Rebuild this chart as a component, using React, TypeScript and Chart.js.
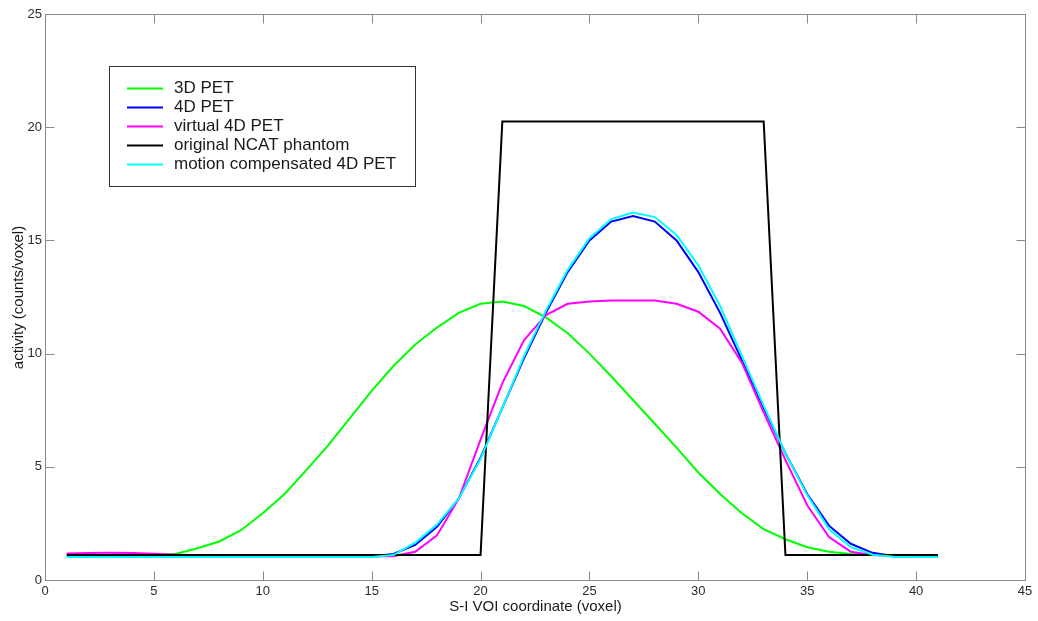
import { useEffect, useRef } from "react";
import { Chart, registerables } from "chart.js";

Chart.register(...registerables);

const voxels = [1,2,3,4,5,6,7,8,9,10,11,12,13,14,15,16,17,18,19,20,21,22,23,24,25,26,27,28,29,30,31,32,33,34,35,36,37,38,39,40,41];

const pet3d = [1.1,1.1,1.1,1.1,1.1,1.15,1.4,1.7,2.2,2.95,3.8,4.85,5.95,7.15,8.35,9.45,10.4,11.15,11.8,12.2,12.3,12.1,11.6,10.9,10.0,9.0,7.95,6.9,5.85,4.75,3.8,2.95,2.25,1.8,1.45,1.25,1.15,1.1,1.1,1.1,1.1];

const pet4d = [1.05,1.05,1.05,1.05,1.05,1.05,1.05,1.05,1.05,1.05,1.05,1.05,1.05,1.05,1.05,1.15,1.55,2.35,3.6,5.4,7.6,9.8,11.8,13.6,15.0,15.83,16.08,15.83,15.0,13.6,11.8,9.7,7.6,5.6,3.8,2.4,1.6,1.2,1.05,1.05,1.05];

const virtual4d = [1.17,1.19,1.2,1.19,1.16,1.12,1.08,1.05,1.05,1.05,1.05,1.05,1.05,1.05,1.05,1.05,1.25,1.97,3.6,6.2,8.7,10.6,11.7,12.2,12.3,12.35,12.35,12.35,12.2,11.85,11.1,9.6,7.4,5.3,3.3,1.9,1.25,1.1,1.05,1.05,1.05];

const phantom = [1.1,1.1,1.1,1.1,1.1,1.1,1.1,1.1,1.1,1.1,1.1,1.1,1.1,1.1,1.1,1.1,1.1,1.1,1.1,1.1,20.25,20.25,20.25,20.25,20.25,20.25,20.25,20.25,20.25,20.25,20.25,20.25,20.25,1.1,1.1,1.1,1.1,1.1,1.1,1.1,1.1];

const motionComp = [1.02,1.02,1.02,1.02,1.02,1.02,1.02,1.02,1.02,1.02,1.02,1.02,1.02,1.02,1.02,1.1,1.65,2.45,3.6,5.35,7.6,9.9,11.9,13.7,15.1,15.94,16.23,16.03,15.24,13.9,12.1,9.9,7.7,5.6,3.75,2.25,1.45,1.12,1.03,1.02,1.02];

const seriesLabels = ["3D PET", "4D PET", "virtual 4D PET", "original NCAT phantom", "motion compensated 4D PET"];
const seriesColors = ["#00ff00", "#0000ff", "#ff00ff", "#000000", "#00ffff"];
const seriesValues = [pet3d, pet4d, virtual4d, phantom, motionComp];

const xTicks = [0, 5, 10, 15, 20, 25, 30, 35, 40, 45];
const yTicks = [0, 5, 10, 15, 20, 25];

const xTitle = "S-I VOI coordinate (voxel)";
const yTitle = "activity (counts/voxel)";

const FONT = "'Liberation Sans', Arial, Helvetica, sans-serif";

const decorPlugin = {
  id: "decor",
  afterDatasetsDraw(chart: any) {
    const ctx = chart.ctx;
    const a = chart.chartArea;
    const xs = chart.scales.x;
    const ys = chart.scales.y;
    const L = Math.round(a.left) + 0.5;
    const R = Math.round(a.right) + 0.5;
    const T = Math.round(a.top) + 0.5;
    const B = Math.round(a.bottom) + 0.5;
    ctx.save();
    // axes box
    ctx.strokeStyle = "#8a8a8a";
    ctx.lineWidth = 1;
    ctx.strokeRect(L, T, R - L, B - T);
    // inward ticks
    const tl = 9;
    ctx.beginPath();
    for (const v of xTicks) {
      const px = Math.round(xs.getPixelForValue(v)) + 0.5;
      ctx.moveTo(px, B);
      ctx.lineTo(px, B - tl);
      ctx.moveTo(px, T);
      ctx.lineTo(px, T + tl);
    }
    for (const v of yTicks) {
      const py = Math.round(ys.getPixelForValue(v)) + 0.5;
      ctx.moveTo(L, py);
      ctx.lineTo(L + tl, py);
      ctx.moveTo(R, py);
      ctx.lineTo(R - tl, py);
    }
    ctx.stroke();

    // axis titles
    ctx.fillStyle = "#1a1a1a";
    ctx.font = `15px ${FONT}`;
    ctx.textAlign = "center";
    ctx.textBaseline = "middle";
    ctx.fillText(xTitle, (L + R) / 2, 607);
    ctx.save();
    ctx.translate(19, (T + B) / 2);
    ctx.rotate(-Math.PI / 2);
    ctx.fillText(yTitle, 0, 0);
    ctx.restore();

    // legend
    const lx = 109.5, ly = 66.5, lw = 306, lh = 120;
    ctx.fillStyle = "#ffffff";
    ctx.fillRect(lx, ly, lw, lh);
    ctx.strokeStyle = "#333333";
    ctx.lineWidth = 1;
    ctx.strokeRect(lx, ly, lw, lh);
    ctx.font = `17px ${FONT}`;
    ctx.textAlign = "left";
    ctx.textBaseline = "middle";
    seriesLabels.forEach((lab, i) => {
      const cy = 88.5 + i * 19;
      ctx.strokeStyle = seriesColors[i];
      ctx.lineWidth = 2;
      ctx.beginPath();
      ctx.moveTo(127, cy);
      ctx.lineTo(163, cy);
      ctx.stroke();
      ctx.fillStyle = "#1a1a1a";
      ctx.fillText(lab, 174, cy);
    });
    ctx.restore();
  },
};

export default function App() {
  const ref = useRef<HTMLCanvasElement | null>(null);
  useEffect(() => {
    document.body.style.margin = "0";
    const canvas = ref.current;
    if (!canvas) return;
    const datasets = seriesLabels.map((label, i) => ({
      label,
      data: voxels.map((x, j) => ({ x, y: seriesValues[i][j] })),
      borderColor: seriesColors[i],
      backgroundColor: seriesColors[i],
      borderWidth: 2,
      pointRadius: 0,
      tension: 0,
      fill: false,
      order: seriesLabels.length - i,
    }));
    const chart = new Chart(canvas, {
      type: "line",
      data: { datasets },
      options: {
        animation: false,
        responsive: false,
        devicePixelRatio: 1,
        layout: { padding: { top: 14, right: 13, left: 0, bottom: 0 } },
        plugins: { legend: { display: false }, tooltip: { enabled: false } },
        scales: {
          x: {
            type: "linear",
            min: 0,
            max: 45,
            afterFit: (s: any) => { s.height = 41; },
            afterBuildTicks: (s: any) => { s.ticks = xTicks.map((v) => ({ value: v })); },
            grid: { display: true, drawOnChartArea: false, drawTicks: false, color: "rgba(0,0,0,0)" },
            border: { display: false },
            ticks: { padding: 4, color: "#2b2b2b", font: { family: FONT, size: 13 }, maxRotation: 0 },
          },
          y: {
            type: "linear",
            min: 0,
            max: 25,
            afterFit: (s: any) => { s.width = 45; },
            afterBuildTicks: (s: any) => { s.ticks = yTicks.map((v) => ({ value: v })); },
            grid: { display: true, drawOnChartArea: false, drawTicks: false, color: "rgba(0,0,0,0)" },
            border: { display: false },
            ticks: { padding: 3, color: "#2b2b2b", font: { family: FONT, size: 13 } },
          },
        },
      },
      plugins: [decorPlugin],
    });
    return () => chart.destroy();
  }, []);
  return (
    <div style={{ width: 1038, height: 621 }}>
      <canvas ref={ref} width={1038} height={621} style={{ display: "block", width: 1038, height: 621 }} />
    </div>
  );
}
